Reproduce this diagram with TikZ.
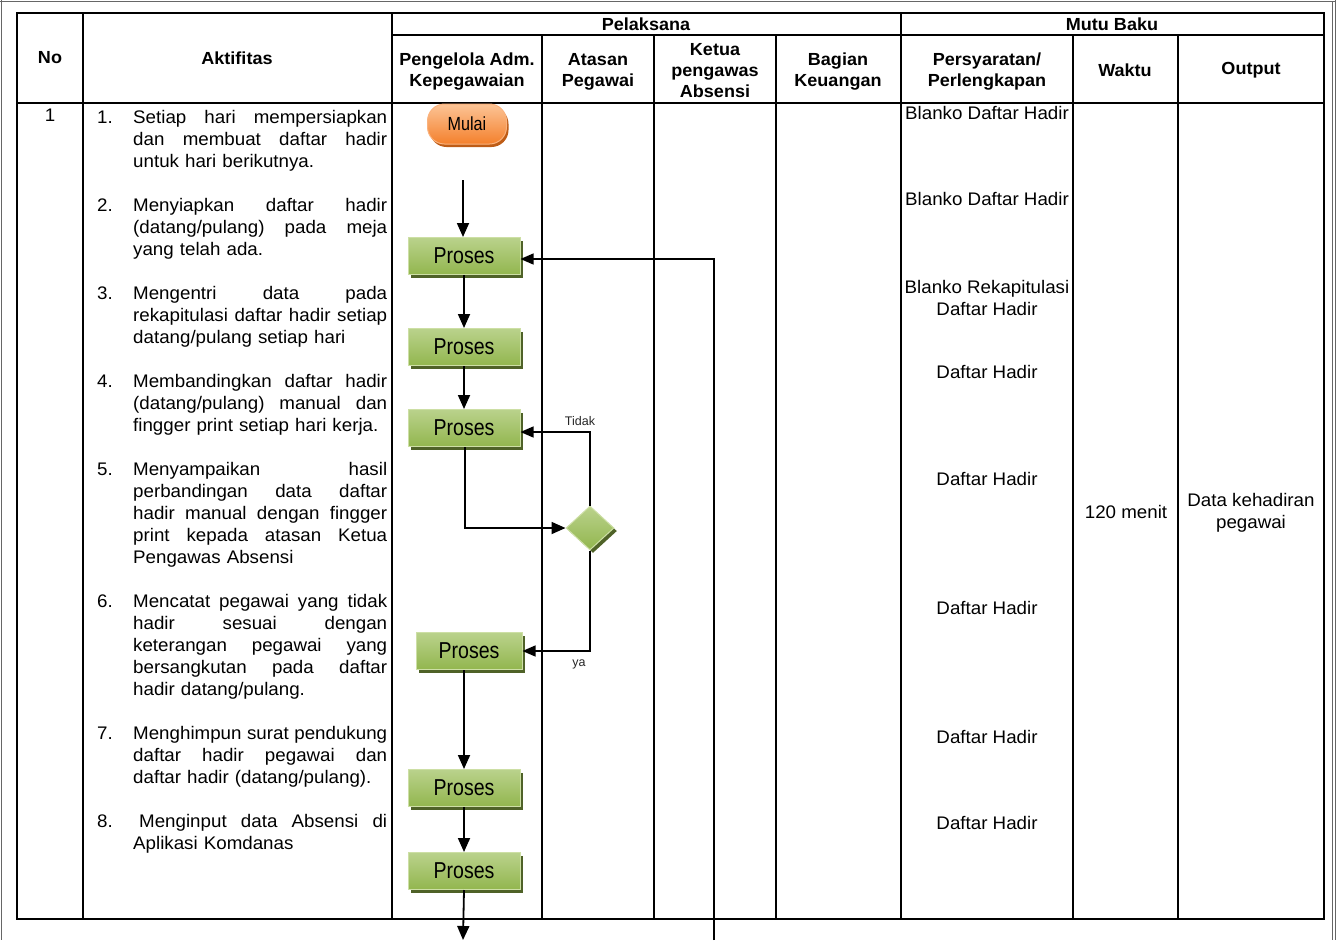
\documentclass[tikz,border=0pt]{standalone}
\usepackage{fontspec}
\setmainfont{Liberation Sans}[FakeStretch=1.03]
\newfontfamily\plainfont{Liberation Sans}
\newfontfamily\narrowfont{Liberation Sans}[FakeStretch=0.85]
\usetikzlibrary{arrows.meta,shapes.geometric,shadows}
\definecolor{grnTop}{RGB}{186,210,140}
\definecolor{grnBot}{RGB}{146,182,78}
\definecolor{grnLine}{RGB}{205,223,165}
\definecolor{grnShadow}{RGB}{79,98,40}
\definecolor{orTop}{RGB}{252,196,150}
\definecolor{orBot}{RGB}{244,128,44}
\definecolor{orLine}{RGB}{250,178,125}
\definecolor{orShadow}{RGB}{190,92,22}
\newcommand{\bodyf}{\fontsize{18.2}{22}\selectfont}
\newcommand{\hdrf}{\bfseries\fontsize{17.5}{21}\selectfont}
\newcommand{\jl}[1]{\makebox[254pt][s]{\spaceskip=\fontdimen2\font plus 1fil\relax #1}}
\begin{document}
\begin{tikzpicture}[x=1pt,y=-1pt,
  framew/.style={line width=2.6pt},
  vline/.style={line width=1.7pt},
  pageline/.style={line width=0.8pt, black!60},
  hd/.style={font=\hdrf, align=center, inner sep=0pt},
  txt/.style={font=\bodyf, inner sep=0pt},
  item/.style={font=\bodyf, text width=254pt, align=left, inner sep=0pt, anchor=base west},
  num/.style={font=\bodyf, inner sep=0pt, anchor=base west},
  req/.style={font=\bodyf, align=center, inner sep=0pt},
  proc/.style={rectangle, minimum width=112pt, minimum height=37pt, inner sep=0pt,
    draw=grnLine, line width=1pt, top color=grnTop, bottom color=grnBot,
    font=\narrowfont\fontsize{23}{24}\selectfont,
    drop shadow={shadow xshift=3pt, shadow yshift=-3pt, fill=grnShadow, opacity=1}},
  startbox/.style={rectangle, rounded corners=17pt, minimum width=79pt, minimum height=40pt,
    inner sep=0pt, draw=orLine, line width=1pt, top color=orTop, bottom color=orBot,
    font=\narrowfont\fontsize{19}{20}\selectfont,
    drop shadow={shadow xshift=2pt, shadow yshift=-3pt, fill=orShadow, opacity=1}},
  dec/.style={diamond, aspect=1.1, minimum width=48pt, minimum height=44pt, inner sep=0pt,
    draw=grnLine, line width=1pt, top color=grnTop, bottom color=grnBot,
    drop shadow={shadow xshift=3pt, shadow yshift=-3pt, fill=grnShadow, opacity=1}},
  arr/.style={line width=1.8pt, -{Triangle[length=14pt,width=12pt]}},
  thinarr/.style={line width=1.3pt, -{Triangle[length=13pt,width=11pt]}},
  lbl/.style={font=\plainfont\fontsize{12.5}{13}\selectfont, inner sep=0pt, text=black!85}
]
\useasboundingbox (0,0) rectangle (1338,940);

% page frame
\draw[pageline] (1,0) -- (1,940);
\draw[pageline] (0,1) -- (1336,1);
\draw[pageline] (1332,1) -- (1332,940);
\draw[pageline] (1335.5,0) -- (1335.5,940);

% table
\draw[framew] (17,13) rectangle (1324,919);
\draw[framew] (392,35) -- (1324,35);
\draw[framew] (17,103) -- (1324,103);
\foreach \x in {83,392,901} \draw[vline] (\x,13) -- (\x,919);
\foreach \x in {542,654,776,1073,1178} \draw[vline] (\x,35) -- (\x,919);

% headers
\node[hd] (hno) at (50,58) {No};
\node[hd] (hakt) at (237,58) {Aktifitas};
\node[hd] (hpel) at (646,24) {Pelaksana};
\node[hd] (hmutu) at (1112,24) {Mutu Baku};
\node[hd] (hpeng) at (467,72) {Pengelola Adm.\\Kepegawaian};
\node[hd] (hata) at (598,72) {Atasan\\Pegawai};
\node[hd] (hket) at (715,70.5) {Ketua\\pengawas\\Absensi};
\node[hd] (hbag) at (838,72) {Bagian\\Keuangan};
\node[hd] (hper) at (987,72) {Persyaratan/\\Perlengkapan};
\node[hd] (hwak) at (1125,70) {Waktu};
\node[hd] (hout) at (1251,70) {Output};

% row
\node[txt] (no1) at (50,115) {1};

\node[num] (n1) at (97,123.5) {1.};
\node[item] (t1) at (133,123.5) {\jl{Setiap hari mempersiapkan}\\\jl{dan membuat daftar hadir}\\untuk hari berikutnya.};
\node[num] (n2) at (97,211.5) {2.};
\node[item] (t2) at (133,211.5) {\jl{Menyiapkan daftar hadir}\\\jl{(datang/pulang) pada meja}\\yang telah ada.};
\node[num] (n3) at (97,299.5) {3.};
\node[item] (t3) at (133,299.5) {\jl{Mengentri data pada}\\\jl{rekapitulasi daftar hadir setiap}\\datang/pulang setiap hari};
\node[num] (n4) at (97,387.5) {4.};
\node[item] (t4) at (133,387.5) {\jl{Membandingkan daftar hadir}\\\jl{(datang/pulang) manual dan}\\fingger print setiap hari kerja.};
\node[num] (n5) at (97,475.5) {5.};
\node[item] (t5) at (133,475.5) {\jl{Menyampaikan hasil}\\\jl{perbandingan data daftar}\\\jl{hadir manual dengan fingger}\\\jl{print kepada atasan Ketua}\\Pengawas Absensi};
\node[num] (n6) at (97,607.5) {6.};
\node[item] (t6) at (133,607.5) {\jl{Mencatat pegawai yang tidak}\\\jl{hadir sesuai dengan}\\\jl{keterangan pegawai yang}\\\jl{bersangkutan pada daftar}\\hadir datang/pulang.};
\node[num] (n7) at (97,739.5) {7.};
\node[item] (t7) at (133,739.5) {\jl{Menghimpun surat pendukung}\\\jl{daftar hadir pegawai dan}\\daftar hadir (datang/pulang).};
\node[num] (n8) at (97,827.5) {8.};
\node[item] (t8) at (133,827.5) {\jl{\hspace{6pt}Menginput data Absensi di}\\Aplikasi Komdanas};

% requirements
\node[req] (r1) at (987,113) {Blanko Daftar Hadir};
\node[req] (r2) at (987,199) {Blanko Daftar Hadir};
\node[req] (r3) at (987,298) {Blanko Rekapitulasi\\Daftar Hadir};
\node[req] (r4) at (987,372) {Daftar Hadir};
\node[req] (r5) at (987,479) {Daftar Hadir};
\node[req] (r6) at (987,608) {Daftar Hadir};
\node[req] (r7) at (987,737) {Daftar Hadir};
\node[req] (r8) at (987,823) {Daftar Hadir};
\node[req] (wkt) at (1126,512) {120 menit};
\node[req] (outp) at (1251,513) {Data kehadiran\\pegawai};

% flowchart
\node[startbox] (mulai) at (467,124) {Mulai};
\node[proc] (p1) at (464,256) {Proses};
\node[proc] (p2) at (464,347) {Proses};
\node[proc] (p3) at (464,428) {Proses};
\node[proc, minimum width=106pt] (p4) at (469,651) {Proses};
\node[proc] (p5) at (464,788) {Proses};
\node[proc] (p6) at (464,871) {Proses};
\node[dec] (d1) at (590,528) {};
\coordinate (a0) at (463,180);
\coordinate (pend) at (463,940);
\coordinate (rend) at (714,940);

\draw[arr] (a0) -- (a0 |- p1.north);
\draw[arr] (p1.south) -- (p2.north);
\draw[arr] (p2.south) -- (p3.north);
\draw[arr] ([xshift=1pt]p3.south) |- (d1.west);
\draw[thinarr] (d1.north) |- ([yshift=-4pt]p3.east);
\node[lbl] (tidak) at (580,421) {Tidak};
\draw[thinarr] (d1.south) |- (p4.east);
\node[lbl] (ya) at (579,664) {ya};
\draw[arr] (p4.south -| p5.north) -- (p5.north);
\draw[arr] (p5.south) -- (p6.north);
\draw[arr] (p6.south) -- (pend);
\draw[thinarr] (rend) |- ([yshift=-3pt]p1.east);
\end{tikzpicture}
\end{document}
